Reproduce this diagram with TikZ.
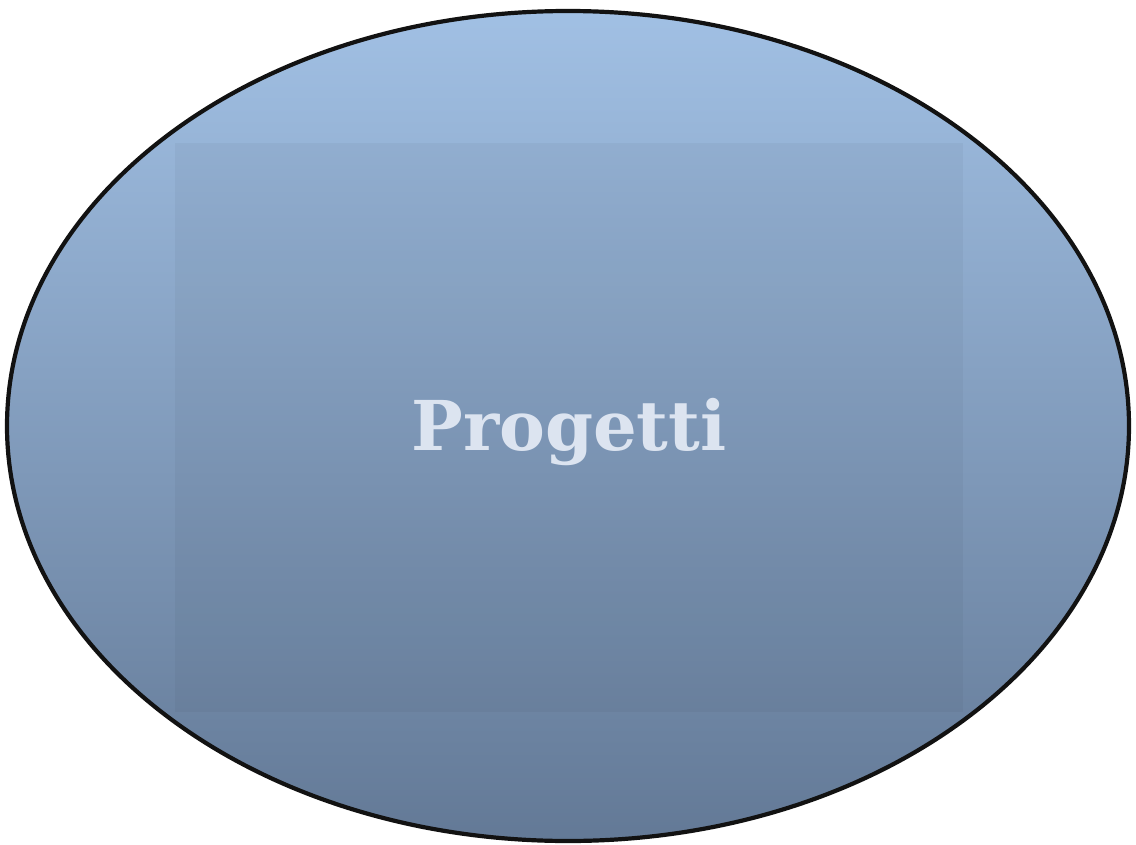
\documentclass[tikz,border=0pt]{standalone}
\usepackage{fontspec}
\newfontfamily\titlefont{DejaVu Serif}
\definecolor{topblue}{RGB}{161,192,228}
\definecolor{botblue}{RGB}{99,121,150}
\definecolor{txtcol}{RGB}{220,228,240}
\begin{document}
\begin{tikzpicture}[x=1bp,y=-1bp,
  outline/.style={draw=black!93,line width=4.2bp},
  label/.style={font=\titlefont\bfseries\fontsize{69}{80}\selectfont,text=txtcol}]
\useasboundingbox (0,0) rectangle (1136,845);
\begin{scope}
  \clip (568,426) ellipse [x radius=561, y radius=415];
  \shade[top color=topblue,bottom color=botblue] (0,10) rectangle (1136,842);
  \fill[black,opacity=0.035] (175,143) rectangle (963,712);
\end{scope}
\draw[outline] (568,426) ellipse [x radius=561, y radius=415];
\node[label] (t) at (569,432) {Progetti};
\end{tikzpicture}
\end{document}
